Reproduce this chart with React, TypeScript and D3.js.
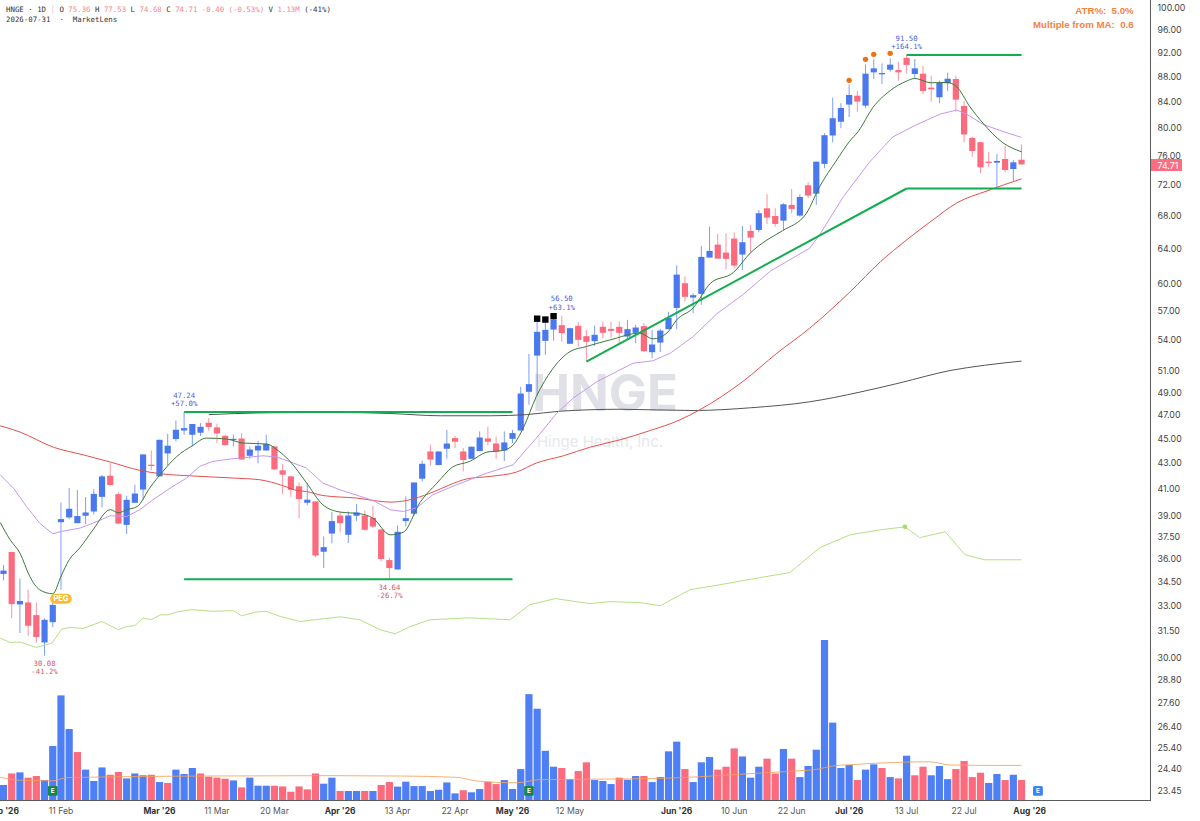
import React from "react";
import * as d3 from "d3";

// ---------- candle data (one entry per trading day, 2 Feb 2026 -> 31 Jul 2026) ----------
const opens = [34.99,36.44,33.07,33.19,32.42,30.82,32.00,38.51,38.85,38.44,38.97,39.28,40.36,41.97,40.56,38.32,39.92,40.91,42.84,41.92,43.74,44.92,45.64,45.28,45.45,46.30,45.90,45.19,44.86,44.97,43.55,43.98,43.98,44.31,42.39,41.92,41.16,39.92,40.02,36.46,37.71,38.99,37.62,38.97,38.99,38.82,37.99,35.90,35.28,38.59,39.12,41.74,43.90,42.81,44.12,45.00,43.90,43.31,43.93,44.97,44.55,43.98,44.94,45.64,49.03,52.43,53.88,55.02,55.47,53.59,55.40,54.35,53.85,55.30,55.09,55.30,54.31,54.69,55.37,52.76,53.71,55.06,57.27,59.95,58.38,58.78,62.87,64.40,63.45,65.12,63.22,66.05,66.17,68.88,67.91,67.32,69.31,67.95,71.88,70.77,74.78,78.82,80.86,83.46,84.85,83.30,88.60,88.38,89.03,88.98,91.00,88.33,88.38,86.12,84.60,86.82,87.51,83.25,78.46,77.85,75.09,74.95,75.47,74.07,75.36];
const highs = [35.59,36.46,34.70,33.98,33.19,32.22,33.36,39.94,41.02,40.87,40.35,40.94,42.03,42.97,40.69,40.44,41.28,43.66,43.98,44.86,45.36,46.49,47.24,46.19,46.27,46.70,46.21,45.28,45.28,45.42,44.31,44.78,45.28,44.37,42.89,41.97,41.45,41.42,40.02,37.51,39.26,39.26,39.28,39.83,39.33,39.70,38.02,36.05,38.27,40.39,41.45,43.15,44.45,43.90,45.70,45.19,44.18,44.29,45.56,45.97,45.13,45.56,45.70,49.49,52.60,55.84,55.70,56.50,56.44,55.20,55.79,54.99,55.44,55.84,55.84,55.84,56.02,55.51,55.68,54.99,55.09,56.88,61.99,60.69,58.85,64.24,66.58,65.68,65.76,65.88,66.66,66.82,68.67,70.70,68.88,69.52,71.39,70.70,72.28,75.09,79.14,84.54,83.67,86.63,85.59,89.94,90.77,90.08,90.94,90.37,91.50,90.82,89.66,88.05,87.24,88.55,88.05,84.02,78.66,77.89,76.46,76.14,77.30,75.33,77.53];
const lows = [34.57,32.24,31.36,31.20,30.82,30.08,31.71,33.98,38.73,38.44,38.37,39.07,39.57,41.22,38.37,37.67,39.90,40.14,42.39,41.92,42.78,44.72,45.28,44.31,45.19,45.62,44.59,44.39,44.31,43.23,43.31,42.94,43.96,42.44,40.56,40.36,38.80,39.75,36.09,35.37,37.03,37.78,37.05,38.61,37.92,38.09,35.81,34.64,35.28,38.20,38.97,41.53,42.76,42.81,43.31,44.18,42.31,43.31,43.93,44.39,43.31,43.15,44.59,45.64,47.87,48.67,52.50,53.91,53.81,53.56,53.32,51.85,53.38,54.15,54.15,53.65,53.98,53.65,52.79,52.18,52.79,55.06,55.06,57.96,56.72,57.60,62.87,62.72,61.53,61.64,61.45,63.38,65.89,66.91,66.58,66.17,68.25,67.82,70.18,69.31,74.19,77.83,79.88,81.57,82.37,82.90,87.51,86.73,88.70,87.24,88.44,87.63,85.12,83.92,83.67,85.59,82.37,77.83,75.79,73.54,74.33,71.49,73.63,72.46,74.68];
const closes = [35.21,33.09,33.28,31.79,31.13,32.14,33.04,38.73,39.48,38.95,39.21,40.58,41.92,41.25,38.41,40.14,40.61,43.66,42.76,44.86,44.37,45.70,45.84,46.19,45.95,45.94,45.39,44.42,44.94,43.25,44.06,44.37,44.51,42.46,42.05,40.89,40.20,40.15,36.20,36.77,38.59,38.44,38.99,39.21,37.97,38.20,35.97,35.37,37.83,38.80,41.45,42.91,43.25,43.90,44.55,44.70,43.21,44.29,45.05,44.70,43.90,44.64,45.42,48.87,49.73,54.79,54.99,56.02,54.66,55.16,53.98,53.78,54.49,54.69,54.89,54.69,55.06,55.23,52.86,53.52,54.92,56.23,60.92,58.46,58.64,62.95,63.65,62.75,62.72,61.94,64.68,65.24,68.25,67.70,66.91,69.39,68.80,70.34,70.52,75.09,78.86,81.38,82.94,84.96,83.92,88.38,89.26,88.49,89.87,88.60,89.83,89.26,85.59,85.86,86.87,87.56,84.23,78.97,76.59,74.30,74.91,75.19,73.94,75.00,74.71];
const volumes = [0.86,1.49,1.55,1.26,1.35,1.13,2.99,5.76,3.92,2.66,1.70,1.08,1.82,1.42,1.57,1.22,1.49,1.39,1.42,1.02,0.97,1.70,1.46,1.79,1.49,1.31,1.26,1.20,1.11,0.73,1.26,0.82,0.82,0.82,0.78,0.49,0.78,0.62,1.49,0.93,1.26,0.53,0.53,0.53,0.53,0.53,0.86,1.02,0.77,1.04,0.80,0.80,0.53,0.60,1.00,0.40,0.57,0.46,0.64,1.04,0.91,1.13,0.64,1.73,5.83,5.03,2.73,1.86,1.79,1.18,1.62,2.10,1.13,1.08,0.91,1.26,1.15,1.35,1.35,1.02,1.29,2.70,3.23,1.73,1.02,2.10,2.39,1.70,1.86,2.86,2.42,1.26,1.86,2.30,1.49,2.83,2.30,1.29,1.90,2.79,8.79,4.27,1.79,1.95,1.13,1.70,1.99,1.79,1.29,1.22,2.46,1.39,1.86,1.39,1.90,1.18,1.73,2.17,1.29,1.53,0.97,1.46,1.13,1.42,1.13];

// ---------- moving averages at selected bars ----------
const fastBars = [-0.4,0.8,2,3.2,4.4,6,7,8,9.3,10.9,13,14,15,16.3,17.8,19.4,21.1,23,24.7,27.2,29.2,32.1,33.3,34.9,36.9,38.9,41,43.4,45,47.1,48.7,50.7,52.8,54.7,56.8,58.9,60.8,62.1,63.3,64.9,66.8,69,71,73.9,77.5,79.1,80.8,82,84,86.1,88.9,91,93,94.9,97.8,99.4,101.5,103,104.1,105.9,108,110,111,113,114.9,116.1,117.7,119.3,121.7,124];
const fastValues = [38.49,37.28,36.37,34.83,33.98,33.73,34.83,35.92,36.72,37.97,39.41,39.19,39.41,39.65,41.02,42.30,43.49,44.37,45.00,44.92,44.59,44.51,44.04,43.10,41.43,39.77,39.24,39.12,38.80,37.62,37.80,39.92,41.40,42.65,43.10,43.85,43.98,44.45,45.84,48.60,51.06,52.82,53.32,53.98,54.66,54.08,54.66,56.02,57.27,59.94,61.15,63.44,64.96,66.08,68.25,71.68,75.33,77.90,79.40,83.02,85.65,87.18,87.60,86.90,86.96,86.27,83.15,80.65,77.79,76.48];
const midBars = [-0.4,1.2,2.8,4.4,6,7,9.3,10.9,13,15,16.6,18.2,20.3,22.3,23.9,25.5,27.6,31.6,33.3,35.3,36.9,38.9,41,45,47.1,48.7,50.3,52.3,55.2,58.9,62.1,63.3,64.9,67.4,69.4,72.3,76.7,79.1,81.2,84,86.9,90.1,93.4,98.2,99.4,102.3,105.5,108.3,111,114.1,116.1,117.3,119.3,121.7,124];
const midValues = [42.05,41.02,39.65,38.44,37.69,37.85,38.09,38.44,38.97,38.92,39.41,40.14,41.02,41.79,42.71,43.10,43.29,43.55,43.45,42.97,42.57,41.40,40.89,40.09,39.41,39.28,39.54,40.52,41.28,42.18,42.84,43.77,45.00,47.13,48.47,49.97,51.70,51.93,52.66,54.31,56.66,58.72,61.31,63.97,65.57,70.38,75.05,78.60,80.29,82.01,82.62,82.01,80.47,79.42,78.54];
const slowBars = [-0.4,2,6.1,9.7,13,16.6,19.1,23.1,28,31.2,34.1,35.7,36.9,38.9,43,47.1,49.1,52,54.4,56.4,59.3,62.5,64.9,68.2,71.4,75.1,78.7,82.4,84.8,90.1,94.2,98.2,103.1,106.8,110,113.2,116.1,119.8,124];
const slowValues = [46.04,45.51,44.24,43.63,43.05,42.39,42.13,41.95,41.79,41.66,41.19,40.84,40.76,40.46,40.27,39.97,40.09,40.64,41.28,41.72,41.92,42.26,42.97,43.55,44.24,44.86,45.62,46.55,47.42,50.00,52.66,55.16,58.99,62.37,64.96,67.41,69.56,71.13,72.74];
const longBars = [25,31.2,39.8,47.1,53.2,59.3,63.7,67.8,75.1,84,91,98.2,104.3,109.2,115.3,119.5,124];
const longValues = [47.00,47.15,47.20,47.10,46.90,46.90,47.00,47.30,47.47,47.36,47.60,48.13,49.00,49.85,51.00,51.50,51.90];
const rsBars = [-0.4,0.8,2,4,5.9,7.1,8.1,9.7,12,14,15,16,17,18,19.1,20.1,21.1,22.9,25.5,28,29,30.8,32,33.7,36.1,41,43.4,45.9,47.7,49.5,51.9,56.8,61.7,64.1,67.2,71.4,73.9,77.5,80,83.6,87.3,92.1,95.8,99.4,103.1,106.8,109.8,111.6,114.7,117.1,119.5,124];
const rsValues = [31.07,30.82,30.84,30.54,30.78,31.59,31.69,31.63,32.04,31.55,31.74,31.80,32.24,32.14,32.44,32.44,32.61,32.75,32.65,32.69,32.38,32.61,32.65,32.34,32.04,32.32,32.14,31.55,31.32,31.73,32.14,32.26,32.14,33.05,33.43,33.12,33.24,33.18,32.99,33.98,34.30,34.75,35.08,36.73,37.62,37.97,38.18,37.42,37.83,36.26,35.92,35.92];
const volMaBars = [-0.4,2,6,7.7,24.7,40.1,48.3,55.2,57.6,62.5,65.3,72.6,79.9,84.8,90.9,97,99,101,103.1,109.2,112.8,115.3,119.7,124];
const volMaValues = [1.28,1.12,1.09,1.26,1.35,1.37,1.35,1.28,1.08,0.98,1.15,1.18,1.22,1.31,1.48,1.64,1.71,1.90,1.97,2.10,2.13,1.95,1.93,1.93];

// ---------- annotations ----------
const pivotBars = [5, 22, 47, 68, 110];
const pivotPrices = ["30.08", "47.24", "34.64", "56.50", "91.50"];
const pivotChanges = ["-41.2%", "+57.0%", "-26.7%", "+63.1%", "+164.1%"];
const pivotIsLow = [true, false, true, false, false];
const pivotValues = [30.08, 47.24, 34.64, 56.5, 91.5];
const blackBars = [65, 66, 67];
const blackPrices = [56.14, 56.05, 56.4];
const orangeBars = [103, 105, 106, 108];
const orangePrices = [87.3, 90.76, 91.6, 91.77];
const trendSegments: [number, number, number, number][] = [
  [22, 47.24, 62, 47.24],
  [22, 34.64, 62, 34.64],
  [71, 51.85, 110, 71.45],
  [110, 71.45, 124, 71.45],
  [110, 91.5, 124, 91.5],
];
const earningsBars = [6, 64];
const nextEarningsBar = 126;
const pegBar = 7;
const rsDotBar = 109.8;
const rsDotValue = 38.18;

const priceTicks = [100,96,92,88,84,80,76,72,68,64,60,57,54,51,49,47,45,43,41,39,37.5,36,34.5,33,31.5,30,28.8,27.6,26.4,25.4,24.4,23.45];
const dateBars = [0,7,19,26,33,41,48,55,62,69,82,89,96,103,110,117,125];
const dateLabels = ["Feb '26","11 Feb","Mar '26","11 Mar","20 Mar","Apr '26","13 Apr","22 Apr","May '26","12 May","Jun '26","10 Jun","22 Jun","Jul '26","13 Jul","22 Jul","Aug '26"];

const BLUE = "#4a79ee";
const RED = "#fb6a7d";
const SANS = "Inter, 'Liberation Sans', sans-serif";
const MONO = "'DejaVu Sans Mono', monospace";

const x = d3.scaleLinear().domain([0, 125]).range([3.5, 1029.75]);
const y = d3.scaleLog().domain([100, 23.45]).range([7, 790]);
const vy = d3.scaleLinear().domain([0, 10]).range([800.7, 617.9]);

function seriesPath(bars: number[], values: number[], yScale: (v: number) => number, curve: d3.CurveFactory) {
  const line = d3
    .line<number>()
    .x((_, i) => x(bars[i]))
    .y((v) => yScale(v))
    .curve(curve);
  return line(values) || "";
}

export default function App() {
  const last = closes.length - 1;
  const headerVal = "#f7858f";
  return (
    <svg width={1200} height={821} style={{ position: "absolute", left: 0, top: 0, background: "#fff" }}>
      <defs>
        <clipPath id="plot"><rect x={0} y={0} width={1150} height={801} /></clipPath>
      </defs>

      <g clipPath="url(#plot)">
        <text x={605} y={411} textAnchor="middle" fontFamily={SANS} fontWeight={700} fontSize={51} fill="#dfe1e6">HNGE</text>
        <text x={600} y={447} textAnchor="middle" fontFamily={SANS} fontSize={15} fill="#e6e8ec">Hinge Health, Inc.</text>

        {volumes.map((v, i) => {
          const up = i === 0 || closes[i] > closes[i - 1];
          return (
            <rect key={i} x={x(i) - 3.6} y={vy(v)} width={7.2} height={vy(0) - vy(v)} fill={up ? "#4f7ff5" : RED} />
          );
        })}
        <path d={seriesPath(volMaBars, volMaValues, vy, d3.curveMonotoneX)} fill="none" stroke="#f4a25a" strokeWidth={1} opacity={0.85} />

        {opens.map((o, i) => {
          const c = closes[i];
          const col = c >= o ? BLUE : RED;
          const top = y(Math.max(o, c));
          const bot = y(Math.min(o, c));
          return (
            <g key={i}>
              <line x1={x(i)} x2={x(i)} y1={y(highs[i])} y2={y(lows[i])} stroke={col} strokeOpacity={0.72} strokeWidth={1} />
              <rect x={x(i) - 3.1} y={top} width={6.2} height={Math.max(bot - top, 1.3)} fill={col} />
            </g>
          );
        })}

        <path d={seriesPath(rsBars, rsValues, y, d3.curveLinear)} fill="none" stroke="#b6e084" strokeWidth={1} />
        <path d={seriesPath(longBars, longValues, y, d3.curveMonotoneX)} fill="none" stroke="#555" strokeWidth={1} />
        <path d={seriesPath(slowBars, slowValues, y, d3.curveMonotoneX)} fill="none" stroke="#e2504f" strokeWidth={1} />
        <path d={seriesPath(midBars, midValues, y, d3.curveLinear)} fill="none" stroke="#c597ee" strokeWidth={1} />
        <path d={seriesPath(fastBars, fastValues, y, d3.curveMonotoneX)} fill="none" stroke="#3c7a3c" strokeWidth={1} />

        {trendSegments.map((s, i) => (
          <line key={i} x1={x(s[0])} y1={y(s[1])} x2={x(s[2])} y2={y(s[3])} stroke="#12ad50" strokeWidth={2} />
        ))}

        {blackBars.map((b, i) => (
          <rect key={b} x={x(b) - 3.2} y={y(blackPrices[i]) - 3.2} width={6.4} height={6.4} fill="#000" />
        ))}
        {orangeBars.map((b, i) => (
          <circle key={b} cx={x(b)} cy={y(orangePrices[i])} r={2.7} fill="#f2700f" />
        ))}
        <circle cx={x(rsDotBar)} cy={y(rsDotValue)} r={2.4} fill="#9fe05f" />

        {pivotBars.map((b, i) => {
          const low = pivotIsLow[i];
          const base = y(pivotValues[i]);
          const col = low ? "#d2586b" : "#4a5fd6";
          const y1 = low ? base + 7.8 : base - 16.8;
          const y2 = low ? base + 16 : base - 8;
          return (
            <g key={b} fontFamily={MONO} fontSize={7.3} fill={col} textAnchor="middle" dominantBaseline="central">
              <text x={x(b)} y={y1}>{pivotPrices[i]}</text>
              <text x={x(b)} y={y2}>{pivotChanges[i]}</text>
            </g>
          );
        })}

        <g>
          <rect x={x(pegBar) - 10.8} y={593.7} width={21.6} height={10} rx={5} fill="#f6bd30" />
          <text x={x(pegBar)} y={598.9} textAnchor="middle" dominantBaseline="central" fontFamily={SANS} fontWeight={700} fontSize={7.5} fill="#fff">PEG</text>
        </g>
        {earningsBars.map((b) => (
          <g key={b}>
            <rect x={x(b) - 4.8} y={786} width={9.6} height={9.8} rx={1.2} fill="#16864c" />
            <text x={x(b)} y={791} textAnchor="middle" dominantBaseline="central" fontFamily={SANS} fontWeight={700} fontSize={6.5} fill="#fff">E</text>
          </g>
        ))}
        <rect x={x(nextEarningsBar) - 4.9} y={786} width={9.8} height={9.8} rx={1.5} fill="#3b82f6" />
        <text x={x(nextEarningsBar)} y={791} textAnchor="middle" dominantBaseline="central" fontFamily={SANS} fontWeight={700} fontSize={6.5} fill="#fff">E</text>
      </g>

      <line x1={1150.5} x2={1150.5} y1={0} y2={801} stroke="#5a5a5a" strokeWidth={1} />
      <line x1={0} x2={1151} y1={800.5} y2={800.5} stroke="#5a5a5a" strokeWidth={1} />

      {priceTicks.map((t) => (
        <text key={t} x={1157.5} y={y(t) + 0.3} dominantBaseline="central" fontFamily={SANS} fontSize={8.8} fill="#444">{t.toFixed(2)}</text>
      ))}
      <rect x={1151} y={159} width={31} height={12} fill="#fb6d80" />
      <text x={1157.5} y={165.2} dominantBaseline="central" fontFamily={SANS} fontSize={8.8} fill="#fff">{closes[last].toFixed(2)}</text>

      {dateBars.map((b, i) => {
        const major = dateLabels[i].includes("'");
        return (
          <text key={b} x={x(b)} y={810.7} textAnchor="middle" dominantBaseline="central" fontFamily={SANS} fontSize={major ? 8.5 : 8.6}
            fontWeight={major ? 700 : 400} fill={major ? "#333" : "#555"}>{dateLabels[i]}</text>
        );
      })}

      <text x={6} y={9} dominantBaseline="central" fontFamily={MONO} fontSize={7.4} fill="#333" style={{ whiteSpace: "pre" }}>
        {"HNGE · 1D "}<tspan fill="#ccc">{"│ "}</tspan>{"O "}<tspan fill={headerVal}>75.36</tspan>{" H "}<tspan fill={headerVal}>77.53</tspan>{" L "}<tspan fill={headerVal}>74.68</tspan>{" C "}<tspan fill={headerVal}>{"74.71 -0.40 (-0.53%)"}</tspan>{" V "}<tspan fill={headerVal}>1.13M</tspan>{" (-41%)"}
      </text>
      <text x={6} y={19.5} dominantBaseline="central" fontFamily={MONO} fontSize={7.4} fill="#333" style={{ whiteSpace: "pre" }}>{"2026-07-31\u00A0\u00A0·\u00A0\u00A0MarketLens"}</text>

      <g fontFamily="'Liberation Sans', Arial, sans-serif" fontWeight={700} fontSize={9.7} fill="#f5823d" textAnchor="end">
        <text x={1133.7} y={10} dominantBaseline="central">{"ATR%:\u00A0\u00A05.0%"}</text>
        <text x={1133.7} y={24.3} dominantBaseline="central">{"Multiple from MA:\u00A0\u00A00.6"}</text>
      </g>
    </svg>
  );
}
